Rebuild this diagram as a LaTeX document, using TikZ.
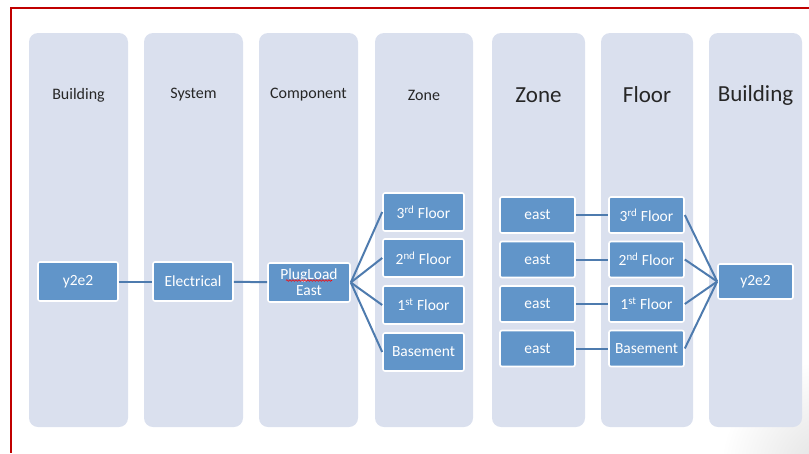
\documentclass[tikz,border=0pt]{standalone}
\usepackage{fontspec}
\setmainfont{Carlito}
\usepackage{xcolor}
\usepackage{tikz}
\usetikzlibrary{calc,positioning,decorations.pathmorphing}
\definecolor{lanebg}{HTML}{DAE0EE}
\definecolor{boxblue}{HTML}{6195C9}
\definecolor{linkblue}{HTML}{4E7BAE}
\definecolor{framered}{HTML}{C00000}

\begin{document}
\begin{tikzpicture}[x=1pt,y=-1pt,
  lane/.style={fill=lanebg,rounded corners=9pt,minimum width=#1,minimum height=394,inner sep=0},
  head/.style={font=\fontsize{16}{18}\selectfont,text=black!85},
  bighead/.style={font=\fontsize{23}{26}\selectfont,text=black!85},
  box/.style={fill=boxblue,draw=white,line width=1.6pt,rounded corners=2pt,text=white,
    font=\fontsize{15.5}{16}\selectfont,align=center,inner sep=0,minimum width=#1},
  link/.style={draw=linkblue,line width=2pt}]
  \useasboundingbox (0,0) rectangle (809,453);
  \begin{scope}
    \clip (0,0) rectangle (809,453);
    \shade [inner color=black!12,outer color=white] (830,470) circle (110);
  \end{scope}
  \draw [framered,line width=1.5pt] (809,8) -- (11,8) -- (11,453);
  % 七列背景
  \node (colA) [lane=99] at (78.5,230) {};
  \node (colB) [lane=99] at (193.5,230) {};
  \node (colC) [lane=99] at (308.5,230) {};
  \node (colD) [lane=98] at (424,230) {};
  \node (colE) [lane=93] at (538.5,230) {};
  \node (colF) [lane=92] at (647,230) {};
  \node (colG) [lane=93] at (755.5,230) {};
  \node [head] at (78.5,95) {Building};
  \node [head] at (193.5,95) {System};
  \node [head] at (308.5,95) {Component};
  \node [head] at (424,95) {Zone};
  \node [bighead] at (538.5,95) {Zone};
  \node [bighead] at (647,95) {Floor};
  \node [bighead] at (755.5,95) {Building};
  % 左边一条链
  \node (bldA) [box=80,minimum height=39] at (78,281.5) {y2e2};
  \node (elec) [box=80,minimum height=39] at (193,281.5) {Electrical};
  \node (plug) [box=82,minimum height=39,font=\fontsize{15.5}{16}\selectfont] at (309,282.5) {PlugLoad\\East};
  \draw [red,line width=0.6pt,decorate,decoration={snake,amplitude=0.8pt,segment length=3pt}]
    ($(plug.center)+(-23,-2)$) -- ($(plug.center)+(23,-2)$);
  \node (zThree) [box=81,minimum height=38] at (423.5,212) {3\textsuperscript{rd} Floor};
  \node (zTwo) [box=81,minimum height=38] at (423.5,258) {2\textsuperscript{nd} Floor};
  \node (zOne) [box=81,minimum height=38] at (423.5,305) {1\textsuperscript{st} Floor};
  \node (zBase) [box=81,minimum height=38] at (423.5,352) {Basement};
  \draw [link] (bldA) -- (elec);
  \draw [link] (elec) -- (plug);
  \foreach \z in {zThree,zTwo,zOne,zBase}
    \draw [link] (plug.east) -- (\z.west);
  % 右边: zone -> floor -> building
  \node (eThree) [box=75,minimum height=36] at (537.5,215) {east};
  \node (eTwo) [box=75,minimum height=36] at (537.5,259.5) {east};
  \node (eOne) [box=75,minimum height=36] at (537.5,304) {east};
  \node (eBase) [box=75,minimum height=36] at (537.5,348.5) {east};
  \node (fThree) [box=75,minimum height=36] at (646.5,215) {3\textsuperscript{rd} Floor};
  \node (fTwo) [box=75,minimum height=36] at (646.5,259.5) {2\textsuperscript{nd} Floor};
  \node (fOne) [box=75,minimum height=36] at (646.5,304) {1\textsuperscript{st} Floor};
  \node (fBase) [box=75,minimum height=36] at (646.5,348.5) {Basement};
  \node (bldB) [box=75,minimum height=35] at (755.5,281.5) {y2e2};
  \foreach \e/\f in {eThree/fThree,eTwo/fTwo,eOne/fOne,eBase/fBase}{
    \draw [link] (\e) -- (\f);
    \draw [link] (\f.east) -- (bldB.west);
  }
\end{tikzpicture}
\end{document}
